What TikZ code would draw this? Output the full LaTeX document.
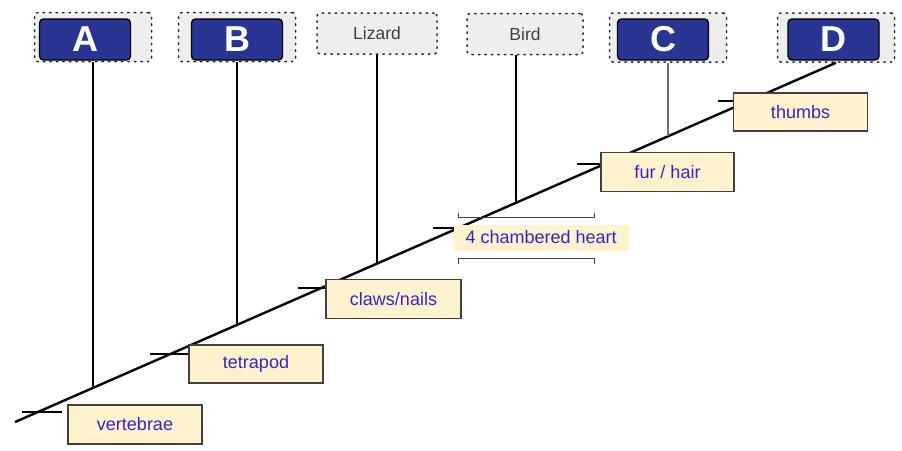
\documentclass[tikz,border=0pt]{standalone}
\usepackage{fontspec}
\setmainfont{Liberation Sans}
\usetikzlibrary{intersections,calc}
\definecolor{clade_blue}{RGB}{40, 53, 147}
\definecolor{clade_gray}{RGB}{238, 238, 238}
\definecolor{trait_fill}{RGB}{255, 242, 204}
\definecolor{trait_text}{RGB}{55, 35, 205}
\tikzstyle{holder}=[rectangle,rounded corners=3pt,fill=clade_gray,draw=black!85,
  line width=1.5pt,dash pattern=on 1.5pt off 5pt,line cap=round,
  minimum width=117pt,minimum height=49pt,inner sep=0pt]
\tikzstyle{letter}=[rectangle,rounded corners=4pt,fill=clade_blue,draw=black,
  line width=1.4pt,text=white,font=\fontsize{36}{36}\selectfont\bfseries,
  minimum width=91pt,minimum height=41pt,inner sep=0pt]
\tikzstyle{taxon}=[holder,minimum width=120pt,minimum height=41pt,
  text=black!75,font=\fontsize{17.5}{18}\selectfont]
\tikzstyle{trait}=[rectangle,fill=trait_fill,draw=black!75,line width=1.3pt,
  text=trait_text,font=\fontsize{18}{18}\selectfont,
  minimum width=134pt,minimum height=38pt,inner sep=0pt]
\tikzstyle{tick}=[line width=1.6pt]
\tikzstyle{none}=[]

\begin{document}
\begin{tikzpicture}[x=1pt,y=-1pt]
            \useasboundingbox (0,0) rectangle (902,450);
            % clades along the top
            \node [style=holder] (a) at (93, 37) {};
            \node [style=letter] (la) at (85, 39.5) {A};
            \node [style=holder] (b) at (237, 37) {};
            \node [style=letter] (lb) at (237, 39.5) {B};
            \node [style=taxon] (liz) at (377, 33.5) {Lizard};
            \node [style=taxon,minimum width=116pt] (bird) at (525, 34) {Bird};
            \node [style=holder] (c) at (668, 37.5) {};
            \node [style=letter] (lc) at (663, 39.5) {C};
            \node [style=holder] (d) at (836, 37.5) {};
            \node [style=letter] (ld) at (833.5, 39.5) {D};
            \coordinate (root) at (15, 422);
            \draw [name path=trunk, line width=2.4pt] (root) to (d.south);
            \foreach \n in {a,b,liz} {
              \path [name path=drop] (\n.south) -- ++(0,400);
              \draw [line width=1.8pt, name intersections={of=drop and trunk}]
                (\n.south) to (intersection-1);
            }
            \path [name path=drop] ([xshift=-9pt]bird.south) -- ++(0,400);
            \draw [line width=1.8pt, name intersections={of=drop and trunk}]
              ([xshift=-9pt]bird.south) to (intersection-1);
            \path [name path=drop] (c.south) -- ++(0,400);
            \draw [line width=1.6pt, black!55, name intersections={of=drop and trunk}]
              (c.south) to (intersection-1);
            % ticks on the trunk
            \foreach \xa/\xb/\y in {22/62/412, 150/189/354, 298/327/288,
                                    433/455/228, 577/602/164, 718/734/101}
              \draw [style=tick] (\xa,\y) to (\xb,\y);
            % traits
            \node [style=trait,minimum height=39pt] (vert) at (135, 424.5) {vertebrae};
            \node [style=trait] (tetra) at (256, 364) {tetrapod};
            \node [style=trait,minimum width=135pt,minimum height=39pt] (claw) at (393.5, 299) {claws/nails};
            \node [style=trait,draw=none,fill=none,minimum width=135pt,minimum height=40pt] (heart) at (526.5, 238) {};
            \node [style=trait,draw=none,anchor=west,minimum width=0pt,minimum height=26pt,
              inner xsep=12pt] (hearttxt) at (453, 237.5) {4 chambered heart};
            \draw [line width=1.3pt, black!75] ([yshift=4pt]heart.north west) to (heart.north west)
              to (heart.north east) to ([yshift=4pt]heart.north east);
            \draw [line width=1.3pt, black!75] ([yshift=-5pt]heart.south west) to (heart.south west)
              to (heart.south east) to ([yshift=-5pt]heart.south east);
            \node [style=trait,minimum width=133pt,minimum height=39pt] (fur) at (667.5, 172) {fur / hair};
            \node [style=trait] (thumb) at (800.5, 112) {thumbs};
    \end{tikzpicture}
\end{document}
